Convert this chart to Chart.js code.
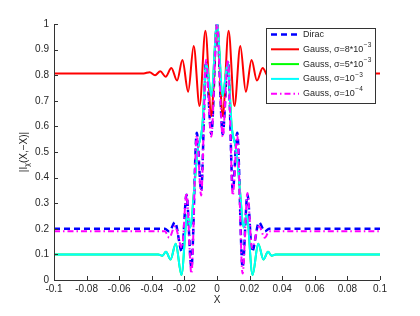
<!DOCTYPE html>
<html>
<head>
<meta charset="utf-8">
<script src="https://cdn.jsdelivr.net/npm/chart.js@4"></script>
<style>
  html, body { margin: 0; padding: 0; background: #fff; }
  #wrap { width: 420px; height: 316px; }
</style>
</head>
<body>
<div id="wrap"><canvas id="myChart" width="420" height="316"></canvas></div>
<script>
// values
const xTicks = [-0.1, -0.08, -0.06, -0.04, -0.02, 0, 0.02, 0.04, 0.06, 0.08, 0.1];
const yTicks = [0, 0.1, 0.2, 0.3, 0.4, 0.5, 0.6, 0.7, 0.8, 0.9, 1];

const xDirac = [-0.1, -0.032, -0.0293, -0.0258, -0.0215, -0.0187, -0.0157, -0.0124, -0.0097, -0.0067, -0.0035, 0,
                0.0035, 0.0067, 0.0097, 0.0124, 0.0157, 0.0187, 0.0215, 0.0258, 0.0293, 0.032, 0.1];
const yDirac = [0.2, 0.2, 0.19, 0.225, 0.11, 0.333, 0.05, 0.575, 0.35, 0.855, 0.57, 1.0,
                0.57, 0.855, 0.35, 0.575, 0.05, 0.333, 0.11, 0.225, 0.19, 0.2, 0.2];

const xRed = [-0.1, -0.045, -0.0413, -0.038, -0.0348, -0.0315, -0.028, -0.0245, -0.0212, -0.0177, -0.0143, -0.0107, -0.0071, -0.0035, 0,
              0.0035, 0.0071, 0.0107, 0.0143, 0.0177, 0.0212, 0.0245, 0.028, 0.0315, 0.0348, 0.038, 0.0413, 0.045, 0.1];
const yRed = [0.807, 0.807, 0.812, 0.800, 0.815, 0.794, 0.828, 0.779, 0.859, 0.735, 0.914, 0.680, 0.974, 0.640, 1.0,
              0.640, 0.974, 0.680, 0.914, 0.735, 0.859, 0.779, 0.828, 0.794, 0.815, 0.800, 0.812, 0.807, 0.807];

const xCyan = [-0.1, -0.036, -0.0335, -0.0313, -0.0285, -0.0253, -0.0218, -0.0182, -0.0163, -0.0142, -0.012, -0.009, -0.0065, -0.0035, 0,
               0.0035, 0.0065, 0.009, 0.012, 0.0142, 0.0163, 0.0182, 0.0218, 0.0253, 0.0285, 0.0313, 0.0335, 0.036, 0.1];
const yCyan = [0.1, 0.1, 0.095, 0.11, 0.08, 0.142, 0.02, 0.255, 0.205, 0.34, 0.5, 0.6, 0.845, 0.72, 1.0,
               0.72, 0.845, 0.6, 0.5, 0.34, 0.205, 0.255, 0.02, 0.142, 0.08, 0.11, 0.095, 0.1, 0.1];

// sigma = 5e-3 lies under the cyan curve in the picture
const xGreen = xCyan;
const yGreen = yCyan;

const xMag = xDirac;
const yMag = [0.19, 0.19, 0.165, 0.21, 0.125, 0.34, 0.025, 0.565, 0.33, 0.86, 0.56, 1.0,
              0.56, 0.86, 0.33, 0.565, 0.025, 0.34, 0.125, 0.21, 0.165, 0.19, 0.19];

const labels = ["Dirac", "Gauss, \u03c3=8*10", "Gauss, \u03c3=5*10", "Gauss, \u03c3=10", "Gauss, \u03c3=10"];
const supers = ["", "\u22123", "\u22123", "\u22123", "\u22124"];

function pts(xs, ys) {
    return xs.map((x, i) => ({ x: x, y: ys[i] }));
}

const FONT = "Liberation Sans, Arial, Helvetica, sans-serif";
const TXT = "#262626";

const styles = [
    { color: "#0000ff", width: 2.5, dash: [6, 4] },
    { color: "#ff0000", width: 2, dash: [] },
    { color: "#00ff00", width: 2, dash: [] },
    { color: "#00ffff", width: 2, dash: [] },
    { color: "#ff00ff", width: 2, dash: [6, 3, 1.5, 3] },
];

const series = [pts(xDirac, yDirac), pts(xRed, yRed), pts(xGreen, yGreen), pts(xCyan, yCyan), pts(xMag, yMag)];

const datasets = series.map((d, i) => ({
    label: labels[i] + supers[i],
    data: d,
    borderColor: styles[i].color,
    borderWidth: styles[i].width,
    borderDash: styles[i].dash,
    pointRadius: 0,
    fill: false,
    cubicInterpolationMode: "monotone",
    order: 5 - i,
}));

// matlab look: inward ticks, axis lines, custom legend with superscripts, axis titles
const matlabPlugin = {
    id: "matlab",
    afterDraw(chart) {
        const ctx = chart.ctx;
        const a = chart.chartArea;
        const xs = chart.scales.x, ys = chart.scales.y;
        ctx.save();
        ctx.strokeStyle = "#333";
        ctx.lineWidth = 1;
        ctx.setLineDash([]);
        ctx.beginPath();
        ctx.moveTo(a.left + 0.5, a.top);
        ctx.lineTo(a.left + 0.5, a.bottom + 0.5);
        ctx.lineTo(a.right, a.bottom + 0.5);
        xTicks.forEach(v => {
            const p = Math.round(xs.getPixelForValue(v)) + 0.5;
            ctx.moveTo(p, a.bottom);
            ctx.lineTo(p, a.bottom - 4);
        });
        yTicks.forEach(v => {
            const p = Math.round(ys.getPixelForValue(v)) + 0.5;
            ctx.moveTo(a.left, p);
            ctx.lineTo(a.left + 4, p);
        });
        ctx.stroke();

        // axis titles
        ctx.fillStyle = TXT;
        ctx.font = "10px " + FONT;
        ctx.textAlign = "center";
        ctx.textBaseline = "middle";
        ctx.fillText("X", (a.left + a.right) / 2, 300);

        ctx.save();
        ctx.translate(24, (a.top + a.bottom) / 2);
        ctx.rotate(-Math.PI / 2);
        const p1 = "|I", sub = "\u03c7", p2 = "(X,\u2212X)|";
        ctx.font = "10px " + FONT;
        const w1 = ctx.measureText(p1).width;
        const w3 = ctx.measureText(p2).width;
        ctx.font = "7px " + FONT;
        const w2 = ctx.measureText(sub).width;
        let sx = -(w1 + w2 + w3) / 2;
        ctx.textAlign = "left";
        ctx.font = "10px " + FONT;
        ctx.fillText(p1, sx, 0);
        sx += w1;
        ctx.font = "7px " + FONT;
        ctx.fillText(sub, sx, 3);
        sx += w2;
        ctx.font = "10px " + FONT;
        ctx.fillText(p2, sx, 0);
        ctx.restore();

        // legend
        const bx = 266, by = 28, bw = 109, bh = 75;
        ctx.fillStyle = "#fff";
        ctx.fillRect(bx, by, bw, bh);
        ctx.strokeStyle = "#333";
        ctx.lineWidth = 1;
        ctx.strokeRect(bx + 0.5, by + 0.5, bw, bh);
        for (let i = 0; i < labels.length; i++) {
            const yy = 34.5 + i * 14.8;
            ctx.beginPath();
            ctx.strokeStyle = styles[i].color;
            ctx.lineWidth = styles[i].width;
            ctx.setLineDash(styles[i].dash);
            ctx.moveTo(271, yy);
            ctx.lineTo(299, yy);
            ctx.stroke();
            ctx.setLineDash([]);
            ctx.fillStyle = TXT;
            ctx.textAlign = "left";
            ctx.textBaseline = "middle";
            ctx.font = "9px " + FONT;
            ctx.fillText(labels[i], 303, yy);
            if (supers[i]) {
                const w = ctx.measureText(labels[i]).width;
                ctx.font = "6.5px " + FONT;
                ctx.fillText(supers[i], 303 + w + 0.5, yy - 4);
            }
        }
        ctx.restore();
    }
};

const ctx = document.getElementById("myChart").getContext("2d");
const chart = new Chart(ctx, {
    type: "line",
    data: { datasets: datasets },
    options: {
        responsive: false,
        animation: false,
        devicePixelRatio: 1,
        layout: { padding: { left: 0, right: 40, top: 24, bottom: 0 } },
        plugins: { legend: { display: false }, tooltip: { enabled: false } },
        scales: {
            x: {
                type: "linear",
                min: -0.1,
                max: 0.1,
                afterFit: s => { s.height = 36; },
                afterBuildTicks: s => { s.ticks = xTicks.map(v => ({ value: v })); },
                grid: { display: false, drawTicks: false },
                border: { display: false },
                ticks: {
                    padding: 3,
                    color: TXT,
                    font: { family: FONT, size: 10 },
                    maxRotation: 0,
                    callback: v => String(Number(v.toFixed(2))),
                },
            },
            y: {
                type: "linear",
                min: 0,
                max: 1,
                afterFit: s => { s.width = 54; },
                afterBuildTicks: s => { s.ticks = yTicks.map(v => ({ value: v })); },
                grid: { display: false, drawTicks: false },
                border: { display: false },
                ticks: {
                    padding: 5,
                    color: TXT,
                    font: { family: FONT, size: 10 },
                    callback: v => String(Number(v.toFixed(1))),
                },
            },
        },
    },
    plugins: [matlabPlugin],
});
</script>
</body>
</html>
